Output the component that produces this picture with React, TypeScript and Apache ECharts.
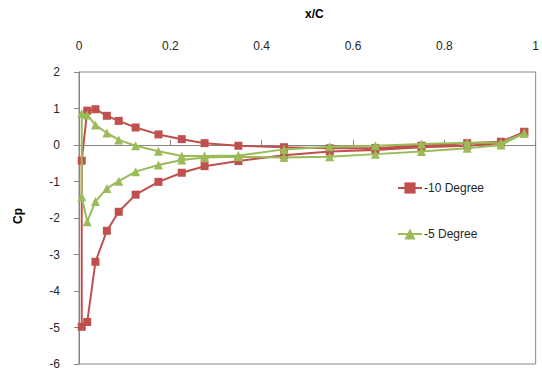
import React, { useEffect, useRef } from "react";
import * as echarts from "echarts";

// Pressure tap chord positions: upper surface from trailing edge to leading edge,
// then lower surface from leading edge back to trailing edge.
const xUpper = [0.975, 0.924, 0.85, 0.75, 0.649, 0.549, 0.449, 0.349, 0.275, 0.225, 0.174, 0.124, 0.087, 0.061, 0.036, 0.018, 0.006];
const xLower = [0.006, 0.018, 0.036, 0.061, 0.087, 0.124, 0.174, 0.225, 0.275, 0.349, 0.449, 0.549, 0.649, 0.75, 0.85, 0.924, 0.975];

const cpMinus10Upper = [0.36, 0.09, 0.05, -0.02, -0.08, -0.09, -0.06, -0.02, 0.05, 0.16, 0.29, 0.48, 0.66, 0.8, 0.98, 0.94, -0.43];
const cpMinus10Lower = [-4.98, -4.85, -3.2, -2.35, -1.83, -1.36, -1.01, -0.76, -0.58, -0.44, -0.28, -0.18, -0.14, -0.06, -0.02, 0.05, 0.36];

const cpMinus5Upper = [0.32, 0.06, 0.06, 0.03, -0.02, -0.05, -0.12, -0.29, -0.3, -0.3, -0.17, -0.02, 0.14, 0.33, 0.55, 0.82, 0.86];
const cpMinus5Lower = [-1.42, -2.1, -1.55, -1.19, -0.99, -0.73, -0.55, -0.41, -0.34, -0.32, -0.34, -0.32, -0.25, -0.18, -0.09, 0.0, 0.32];

const seriesNames = ["-10 Degree", "-5 Degree"];
const xTicks = { min: 0, max: 1, interval: 0.2 };
const yTicks = { min: -6, max: 2, interval: 1 };

const toPoints = (xs: number[], ys: number[]) => xs.map((x, i) => [x, ys[i]]);

const FONT = "'Liberation Sans', Arial, sans-serif";
const AXIS_GRAY = "#868686";
const TEXT = "#262626";

export default function App() {
  const ref = useRef<HTMLDivElement>(null);

  useEffect(() => {
    if (!ref.current) return;
    const chart = echarts.init(ref.current, undefined, { renderer: "svg" });

    const m10 = [...toPoints(xUpper, cpMinus10Upper), ...toPoints(xLower, cpMinus10Lower)];
    const m5 = [...toPoints(xUpper, cpMinus5Upper), ...toPoints(xLower, cpMinus5Lower)];

    chart.setOption({
      animation: false,
      backgroundColor: "#ffffff",
      textStyle: { fontFamily: FONT },
      grid: {
        left: 79,
        right: 2,
        top: 72,
        bottom: 7,
        show: true,
        borderColor: AXIS_GRAY,
        borderWidth: 1,
        containLabel: false,
      },
      graphic: [
        {
          type: "text",
          left: 305,
          top: 8,
          style: { text: "x/C", font: `bold 12px ${FONT}`, fill: "#000" },
        },
        {
          type: "text",
          x: 12,
          y: 224,
          rotation: Math.PI / 2,
          style: { text: "Cp", font: `bold 12px ${FONT}`, fill: "#000" },
        },
      ],
      legend: {
        orient: "vertical",
        left: 392,
        top: 177,
        itemGap: 34,
        itemWidth: 24,
        itemHeight: 14,
        data: seriesNames,
        textStyle: { fontFamily: FONT, fontSize: 12, color: TEXT, padding: [0, 0, 0, -3] },
      },
      xAxis: [
        {
          // tick labels along the top edge
          type: "value",
          position: "top",
          min: xTicks.min,
          max: xTicks.max,
          interval: xTicks.interval,
          axisLine: { show: false, onZero: false },
          axisTick: { show: false },
          splitLine: { show: false },
          axisLabel: { margin: 20, fontSize: 12, color: TEXT, fontFamily: FONT },
        },
        {
          // axis line crossing at Cp = 0 with upward ticks
          type: "value",
          position: "bottom",
          min: xTicks.min,
          max: xTicks.max,
          interval: xTicks.interval,
          axisLine: { show: true, onZero: true, lineStyle: { color: AXIS_GRAY, width: 1 } },
          axisTick: { show: true, inside: true, length: 5, lineStyle: { color: AXIS_GRAY } },
          axisLabel: { show: false },
          splitLine: { show: false },
        },
      ],
      yAxis: {
        type: "value",
        min: yTicks.min,
        max: yTicks.max,
        interval: yTicks.interval,
        axisLine: { show: true, onZero: false, lineStyle: { color: AXIS_GRAY, width: 1 } },
        axisTick: { show: true, inside: false, length: 5, lineStyle: { color: AXIS_GRAY } },
        splitLine: { show: false },
        axisLabel: { margin: 19, fontSize: 12, color: TEXT, fontFamily: FONT },
      },
      series: [
        {
          name: seriesNames[0],
          type: "line",
          xAxisIndex: 0,
          data: m10,
          color: "#C0504D",
          symbol: "rect",
          symbolSize: 8,
          lineStyle: { width: 2, color: "#C0504D" },
          itemStyle: { color: "#C0504D" },
          z: 3,
        },
        {
          name: seriesNames[1],
          type: "line",
          xAxisIndex: 0,
          data: m5,
          color: "#9BBB59",
          symbol: "triangle",
          symbolSize: 9,
          lineStyle: { width: 2, color: "#9BBB59" },
          itemStyle: { color: "#9BBB59" },
          z: 4,
        },
      ],
    });

    return () => chart.dispose();
  }, []);

  return (
    <div
      ref={ref}
      style={{ position: "fixed", left: 0, top: 0, width: 542, height: 371, background: "#fff" }}
    />
  );
}
